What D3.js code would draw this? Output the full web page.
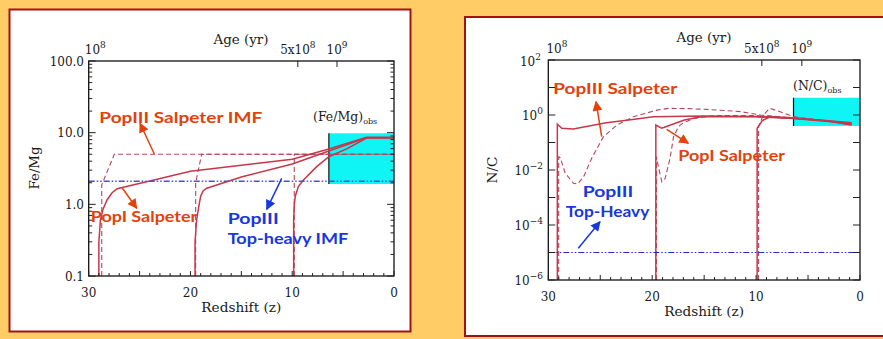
<!DOCTYPE html>
<html><head><meta charset="utf-8">
<script src="https://cdn.jsdelivr.net/npm/d3@7"></script>
<style>html,body{margin:0;padding:0;background:#FFCC66;}svg{display:block;}</style>
</head><body>
<svg id="c" width="883" height="339"></svg>
<script>
// ---------- data ----------
const zTicks = [30, 20, 10, 0];
const feMgTickValues = [0.1, 1, 10, 100];
const feMgTickLabels = ["0.1", "1.0", "10.0", "100.0"];
const ncTickValues = [1e-6, 1e-4, 1e-2, 1, 1e2];
const ncTickExps = ["\u22126", "\u22124", "\u22122", "0", "2"];
const ageTickBases = ["10", "5x10", "10"];
const ageTickExps = ["8", "8", "9"];
const ageTickZ = [29.7, 9.45, 5.6];

// Fe/Mg panel
const feMgPopI = [
  [[29.0,0.1],[29.0,0.3],[28.85,0.6],[28.6,0.85],[28.2,1.15],[27.7,1.45],[27.2,1.65],[26.5,1.75],[24,2.12],[20,2.9],[15,3.5],[10,4.25],[6.4,5.9],[2.7,8.6],[0,8.6]],
  [[19.55,0.1],[19.55,0.3],[19.4,0.6],[19.2,0.9],[19.0,1.3],[18.75,1.55],[18.4,1.68],[15,2.4],[10,3.66],[6.4,5.55],[2.7,8.5],[0,8.5]],
  [[9.86,0.1],[9.86,0.6],[9.8,1.0],[9.7,1.3],[9.4,1.77],[8.9,2.18],[7.6,3.36],[6.4,4.62],[4.6,6.0],[2.7,8.4],[0,8.4]]
];
const feMgPopIII = [
  [[28.72,0.1],[28.72,1.87],[27.48,5.0],[0,5.0]],
  [[19.49,0.1],[19.49,2.0],[18.9,5.0],[0,5.0]],
  [[9.8,0.1],[9.8,5.0],[0,5.0]]
];
const feMgTopHeavy = [[30,2.1],[0,2.1]];
const feMgObsZ = [6.4, 0];
const feMgObsRange = [1.92, 9.8];

// N/C panel
const ncPopI = [
  [[29.13,1e-6],[29.13,0.46],[28.7,0.33],[27.6,0.31],[24.4,0.52],[21.5,0.72],[19.9,0.87],[15,0.92],[10,0.88],[6.4,0.76],[3,0.62],[0.8,0.52]],
  [[19.65,1e-6],[19.65,0.43],[19.1,0.33],[18.9,0.35],[16.9,0.66],[15.3,0.87],[10,0.86],[6.4,0.74],[3,0.58],[0.8,0.45]],
  [[9.9,1e-6],[9.9,0.33],[9.4,0.63],[8.6,0.87],[6.4,0.8],[3,0.6],[0.8,0.43]]
];
const ncPopIII = [
  [[29.0,1e-6],[29.0,0.03],[28.85,0.028],[28.37,0.0076],[27.57,0.0033],[27.18,0.0031],[26.6,0.0057],[25.8,0.028],[24.7,0.16],[23.4,0.43],[21.8,0.87],[19.55,1.5],[18.4,1.75],[16.5,1.7],[14.7,1.6],[11.5,1.33],[9.6,1.0],[6.4,0.77],[3.5,0.63],[0.85,0.46]],
  [[19.6,1e-6],[19.6,0.03],[19.4,0.013],[19.07,0.0037],[18.75,0.005],[18.27,0.028],[17.95,0.16],[17.47,0.38],[16.99,0.52],[16,0.75],[14,0.95],[10,0.95],[6.4,0.75],[3,0.6],[0.8,0.45]],
  [[9.76,1e-6],[9.76,0.38],[9.3,1.0],[8.7,1.75],[7.9,1.4],[6.4,0.87],[3.5,0.62],[0.8,0.48]]
];
const ncTopHeavy = [[30,1e-5],[0,1e-5]];
const ncObsZ = [6.4, 0];
const ncObsRange = [0.4, 4.25];

// ---------- drawing ----------
const svg = d3.select("#c");
const defs = svg.append("defs");
function marker(id, color){
  defs.append("marker").attr("id", id).attr("viewBox","0 0 10 10")
    .attr("refX",9).attr("refY",5).attr("markerWidth",11).attr("markerHeight",10)
    .attr("markerUnits","userSpaceOnUse").attr("orient","auto")
    .append("path").attr("d","M0,0L10,5L0,10Z").attr("fill",color);
}
const ORANGE = "#E2420C", BLUE = "#1838DC";
marker("ah-o", ORANGE); marker("ah-b", BLUE);

const serif = "DejaVu Serif";
const anno = "Lato";
const INK = "#1a1a1a";

function supText(g, x, y, base, exp, anchor){
  const t = g.append("text").attr("x", x).attr("y", y).attr("text-anchor", anchor)
    .attr("font-family", serif).attr("font-size", 12).attr("fill", INK);
  t.append("tspan").text(base);
  t.append("tspan").attr("dy", -6).attr("font-size", 9).text(exp);
  return t;
}
function title(g, x, y, txt, len, rot){
  const t = g.append("text").attr("text-anchor", "middle").attr("font-family", serif)
    .attr("font-size", 13).attr("fill", INK).attr("textLength", len).attr("lengthAdjust", "spacingAndGlyphs").text(txt);
  if (rot) t.attr("transform", `translate(${x},${y}) rotate(-90)`);
  else t.attr("x", x).attr("y", y);
}

function panel(cfg){
  const g = svg.append("g");
  g.append("rect").attr("x", cfg.box[0]).attr("y", cfg.box[1]).attr("width", cfg.box[2]).attr("height", cfg.box[3])
    .attr("fill", "#fff").attr("stroke", "#A31212").attr("stroke-width", 2);
  const x = d3.scaleLinear().domain([30, 0]).range([cfg.x0, cfg.x1]);
  const y = d3.scaleLog().domain(cfg.ydom).range([cfg.y1, cfg.y0]);
  const cid = "clip" + cfg.id;
  defs.append("clipPath").attr("id", cid).append("rect")
    .attr("x", cfg.x0).attr("y", cfg.y0).attr("width", cfg.x1 - cfg.x0).attr("height", cfg.y1 - cfg.y0);
  const pg = g.append("g").attr("clip-path", `url(#${cid})`);
  pg.append("rect").attr("x", x(cfg.obsZ[0])).attr("y", y(cfg.obsR[1]))
    .attr("width", x(cfg.obsZ[1]) - x(cfg.obsZ[0])).attr("height", y(cfg.obsR[0]) - y(cfg.obsR[1]))
    .attr("fill", "#0FF4F4");
  pg.append("line").attr("x1", x(cfg.obsZ[0])).attr("x2", x(cfg.obsZ[0]))
    .attr("y1", y(cfg.obsR[1])).attr("y2", y(cfg.obsR[0])).attr("stroke", "#111").attr("stroke-width", 1.2);
  const line = d3.line().x(d => x(d[0])).y(d => y(d[1]));
  cfg.popIII.forEach(s => pg.append("path").attr("d", line(s)).attr("fill", "none")
    .attr("stroke", "#B5455A").attr("stroke-width", 1.1).attr("stroke-dasharray", "5,3"));
  cfg.popI.forEach(s => pg.append("path").attr("d", line(s)).attr("fill", "none")
    .attr("stroke", "#C8364A").attr("stroke-width", 1.5));
  pg.append("path").attr("d", line(cfg.top)).attr("fill", "none").attr("stroke", cfg.topColor)
    .attr("stroke-width", cfg.topW).attr("stroke-dasharray", "6,2,1.5,2,1.5,2");
  g.append("rect").attr("x", cfg.x0).attr("y", cfg.y0).attr("width", cfg.x1 - cfg.x0).attr("height", cfg.y1 - cfg.y0)
    .attr("fill", "none").attr("stroke", "#111").attr("stroke-width", 1.3);
  d3.range(0, 31).forEach(v => {
    const Lt = v % 5 === 0 ? 5 : 3;
    g.append("line").attr("x1", x(v)).attr("x2", x(v)).attr("y1", cfg.y1).attr("y2", cfg.y1 - Lt)
      .attr("stroke", "#222").attr("stroke-width", 1);
  });
  zTicks.forEach(v => g.append("text").attr("x", x(v)).attr("y", cfg.y1 + 21).attr("text-anchor", "middle")
    .attr("font-family", serif).attr("font-size", 12).attr("fill", INK).text(v));
  title(g, (cfg.x0 + cfg.x1) / 2, cfg.y1 + 36, "Redshift (z)", 80);
  cfg.yTicks.forEach(t => {
    [[cfg.x0, 1], [cfg.x1, -1]].forEach(([xx, s]) =>
      g.append("line").attr("x1", xx).attr("x2", xx + s * t[1]).attr("y1", y(t[0])).attr("y2", y(t[0]))
        .attr("stroke", "#222").attr("stroke-width", 1));
  });
  ageTickZ.forEach((z, i) => {
    if (i > 0) g.append("line").attr("x1", x(z)).attr("x2", x(z)).attr("y1", cfg.y0).attr("y2", cfg.y0 + 6)
      .attr("stroke", "#222").attr("stroke-width", 1);
    if (i === 0) supText(g, x(z) - 7 + cfg.firstShift, cfg.y0 - 7, ageTickBases[i], ageTickExps[i], "start");
    else supText(g, x(z), cfg.y0 - 7, ageTickBases[i], ageTickExps[i], "middle");
  });
  title(g, cfg.ageX, cfg.ageY, "Age (yr)", 55);
  title(g, cfg.ytX, cfg.ytY, cfg.ytitle, cfg.ytLen, true);
  return {g, x, y};
}

function minorLog(lo, hi, everyMinor){
  const out = [];
  for (let e = Math.round(Math.log10(lo)); e <= Math.round(Math.log10(hi)); e++) {
    out.push([Math.pow(10, e), 7]);
    if (everyMinor && e < Math.round(Math.log10(hi)))
      for (let k = 2; k <= 9; k++) out.push([k * Math.pow(10, e), 3.5]);
  }
  return out;
}

// Left panel: Fe/Mg
const L = panel({id: "L", box: [9.5, 9.5, 401, 322], x0: 88.7, x1: 394, y0: 61, y1: 276,
  ydom: [0.1, 100], obsZ: feMgObsZ, obsR: feMgObsRange, popI: feMgPopI, popIII: feMgPopIII,
  top: feMgTopHeavy, topColor: "#5050CC", topW: 1.6, yTicks: minorLog(0.1, 100, true),
  ageX: 241, ageY: 44, ytitle: "Fe/Mg", ytLen: 43, ytX: 39, ytY: 168, firstShift: 0});
feMgTickValues.forEach((v, i) => L.g.append("text").attr("x", 84).attr("y", L.y(v) + 4.5)
  .attr("text-anchor", "end").attr("font-family", serif).attr("font-size", 12).attr("fill", INK).text(feMgTickLabels[i]));
{
  const t = L.g.append("text").attr("x", 313).attr("y", 121).attr("font-family", serif).attr("font-size", 12.5).attr("fill", INK);
  t.append("tspan").text("(Fe/Mg)");
  t.append("tspan").attr("dy", 3).attr("font-size", 8).text("obs");
}

// Right panel: N/C
const R = panel({id: "R", box: [465, 17, 420, 319], x0: 548.3, x1: 860, y0: 60, y1: 280,
  ydom: [1e-6, 1e2], obsZ: ncObsZ, obsR: ncObsRange, popI: ncPopI, popIII: ncPopIII,
  top: ncTopHeavy, topColor: "#2A2ACC", topW: 1.1, yTicks: minorLog(1e-6, 1e2, false),
  ageX: 704, ageY: 42, ytitle: "N/C", ytLen: 27, ytX: 497, ytY: 170, firstShift: 2});
ncTickValues.forEach((v, i) => supText(R.g, i === 4 ? 541 : 543, R.y(v) + (i === 4 ? 6 : 5), "10", ncTickExps[i], "end"));
{
  const t = R.g.append("text").attr("x", 793).attr("y", 90).attr("font-family", serif).attr("font-size", 12.5).attr("fill", INK);
  t.append("tspan").text("(N/C)");
  t.append("tspan").attr("dy", 3).attr("font-size", 8).text("obs");
}

// annotations
function label(x, y, txt, len, color){
  svg.append("text").attr("x", x).attr("y", y)
    .attr("font-family", anno).attr("font-weight", 700).attr("font-size", 16).attr("fill", color)
    .attr("textLength", len).attr("lengthAdjust", "spacingAndGlyphs").text(txt);
}
function arrow(x1, y1, x2, y2, color, mk){
  svg.append("line").attr("x1", x1).attr("y1", y1).attr("x2", x2).attr("y2", y2)
    .attr("stroke", color).attr("stroke-width", 1.5).attr("marker-end", `url(#${mk})`);
}
label(99.3, 122.7, "PopIII Salpeter IMF", 163, ORANGE);
arrow(154.3, 154, 140, 123.3, ORANGE, "ah-o");
label(90.7, 221.7, "PopI Salpeter", 106.6, ORANGE);
arrow(121.7, 187.3, 136.7, 208.3, ORANGE, "ah-o");
label(227.7, 224, "PopIII", 51, BLUE);
label(227.7, 244, "Top-heavy IMF", 120.6, BLUE);
arrow(281.7, 178.3, 266.7, 209.3, BLUE, "ah-b");

label(553.3, 94.3, "PopIII Salpeter", 124, ORANGE);
arrow(601.7, 136.7, 596, 101.7, ORANGE, "ah-o");
label(678.3, 161, "PopI Salpeter", 106.7, ORANGE);
arrow(666.7, 129.3, 688.3, 143.3, ORANGE, "ah-o");
label(582.7, 197.3, "PopIII", 50.6, BLUE);
label(565.7, 216.7, "Top-Heavy", 83.6, BLUE);
arrow(578.3, 248.3, 600, 221.7, BLUE, "ah-b");
</script>
</body></html>
